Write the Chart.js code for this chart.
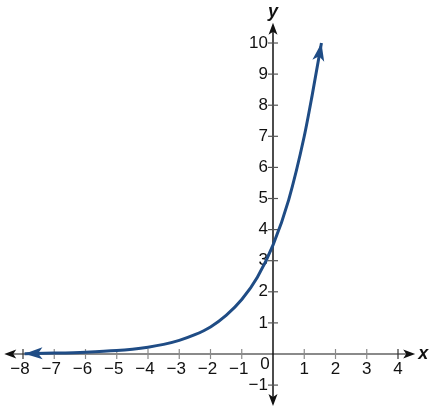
<!DOCTYPE html>
<html>
<head>
<meta charset="utf-8">
<script src="https://cdn.jsdelivr.net/npm/chart.js@4"></script>
<style>
  html, body { margin: 0; padding: 0; background: #fff; }
  #wrap { width: 434px; height: 411px; }
</style>
</head>
<body>
<div id="wrap"><canvas id="chart" width="434" height="411"></canvas></div>
<script>
// ===============================
// Data
// ===============================

const xValues = [-7.95, -7, -6, -5, -4.5, -4, -3.5, -3, -2.5, -2, -1.5, -1, -0.5, 0, 0.5, 1, 1.25, 1.55];
const yValues = [0.01, 0.03, 0.06, 0.11, 0.155, 0.22, 0.31, 0.44, 0.62, 0.87, 1.24, 1.75, 2.47, 3.5, 4.95, 7.0, 8.3, 10.0];

const xTicks = [-8, -7, -6, -5, -4, -3, -2, -1, 1, 2, 3, 4];
const yTicks = [-1, 1, 2, 3, 4, 5, 6, 7, 8, 9, 10];

const curveColor = "#1f4c85";
const labelFont = "17px 'Liberation Sans', Arial, sans-serif";

const points = xValues.map(function(x, i){
    return { x: x, y: yValues[i] };
});

// ===============================
// Helpers
// ===============================

function arrowHead(ctx, tipX, tipY, angle, len, half, color){
    ctx.save();
    ctx.translate(tipX, tipY);
    ctx.rotate(angle);
    ctx.beginPath();
    ctx.moveTo(0, 0);
    ctx.lineTo(-len, -half);
    ctx.lineTo(-len * 0.75, 0);
    ctx.lineTo(-len, half);
    ctx.closePath();
    ctx.fillStyle = color;
    ctx.fill();
    ctx.restore();
}

function minus(n){
    return n < 0 ? "\u2212" + Math.abs(n) : String(n);
}

// ===============================
// Axes plugin (drawn under the curve)
// ===============================

const axesPlugin = {
    id: "axes",
    beforeDatasetsDraw(chart){
        const ctx = chart.ctx;
        const xs = chart.scales.x;
        const ys = chart.scales.y;
        const x0 = xs.getPixelForValue(0);
        const y0 = ys.getPixelForValue(0);

        ctx.save();

        // x axis
        const xLeft = xs.getPixelForValue(-8.6);
        const xRight = xs.getPixelForValue(4.55);
        ctx.strokeStyle = "#8a8a8a";
        ctx.lineWidth = 2;
        ctx.beginPath();
        ctx.moveTo(xLeft + 8, y0);
        ctx.lineTo(xRight - 8, y0);
        ctx.stroke();
        arrowHead(ctx, xRight, y0, 0, 12, 4.5, "#111");
        arrowHead(ctx, xLeft, y0, Math.PI, 12, 4.5, "#111");

        // x ticks
        ctx.lineWidth = 1.2;
        xTicks.forEach(function(t){
            const px = xs.getPixelForValue(t);
            ctx.strokeStyle = (t === -8 || t === 4) ? "#333" : "#8a8a8a";
            ctx.beginPath();
            ctx.moveTo(px, y0 - 5);
            ctx.lineTo(px, y0 + 5);
            ctx.stroke();
        });

        // y axis
        const yTop = ys.getPixelForValue(10.65);
        const yBottom = ys.getPixelForValue(-1.67);
        ctx.strokeStyle = "#111";
        ctx.lineWidth = 1.5;
        ctx.beginPath();
        ctx.moveTo(x0, yTop + 8);
        ctx.lineTo(x0, yBottom - 8);
        ctx.stroke();
        arrowHead(ctx, x0, yTop, -Math.PI / 2, 12, 4.5, "#111");
        arrowHead(ctx, x0, yBottom, Math.PI / 2, 12, 4.5, "#111");

        // y ticks
        ctx.lineWidth = 1.2;
        ctx.strokeStyle = "#555";
        yTicks.forEach(function(t){
            const py = ys.getPixelForValue(t);
            ctx.beginPath();
            ctx.moveTo(x0 - 5, py);
            ctx.lineTo(x0 + 5, py);
            ctx.stroke();
        });

        // labels
        ctx.fillStyle = "#111";
        ctx.font = labelFont;
        ctx.textAlign = "center";
        ctx.textBaseline = "top";
        xTicks.forEach(function(t){
            const px = xs.getPixelForValue(t);
            ctx.fillText(minus(t), px - (t < 0 ? 3 : 0), y0 + 7);
        });

        ctx.textAlign = "right";
        ctx.textBaseline = "middle";
        yTicks.forEach(function(t){
            const py = ys.getPixelForValue(t);
            ctx.fillText(minus(t), x0 - 5, py);
        });

        ctx.textAlign = "center";
        ctx.fillText("0", x0 - 8, y0 + 10);

        ctx.font = "italic bold 18px 'Liberation Sans', Arial, sans-serif";
        ctx.fillText("x", xRight + 8, y0);
        ctx.fillText("y", x0, yTop - 11);

        ctx.restore();
    },
    afterDatasetsDraw(chart){
        // arrowheads on both ends of the curve
        const ctx = chart.ctx;
        const pts = chart.getDatasetMeta(0).data;
        const n = pts.length;

        const first = pts[0], second = pts[1];
        const a1 = Math.atan2(first.y - second.y, first.x - second.x);
        arrowHead(ctx, first.x, first.y, a1, 18, 6, curveColor);

        const last = pts[n - 1], prev = pts[n - 2];
        const a2 = Math.atan2(last.y - prev.y, last.x - prev.x);
        arrowHead(ctx, last.x, last.y, a2, 18, 6, curveColor);
    }
};

// ===============================
// Chart
// ===============================

new Chart(document.getElementById("chart"), {

    type: "scatter",

    data: {
        datasets: [{
            data: points,
            showLine: true,
            borderColor: curveColor,
            borderWidth: 3,
            pointRadius: 0,
            cubicInterpolationMode: "monotone",
            fill: false,
            clip: false
        }]
    },

    options: {
        responsive: false,
        animation: false,
        layout: { padding: 0 },
        plugins: {
            legend: { display: false },
            tooltip: { enabled: false }
        },
        scales: {
            x: { type: "linear", display: false, min: -8.736, max: 5.152 },
            y: { type: "linear", display: false, min: -1.833, max: 11.383 }
        }
    },

    plugins: [axesPlugin]

});
</script>
</body>
</html>
